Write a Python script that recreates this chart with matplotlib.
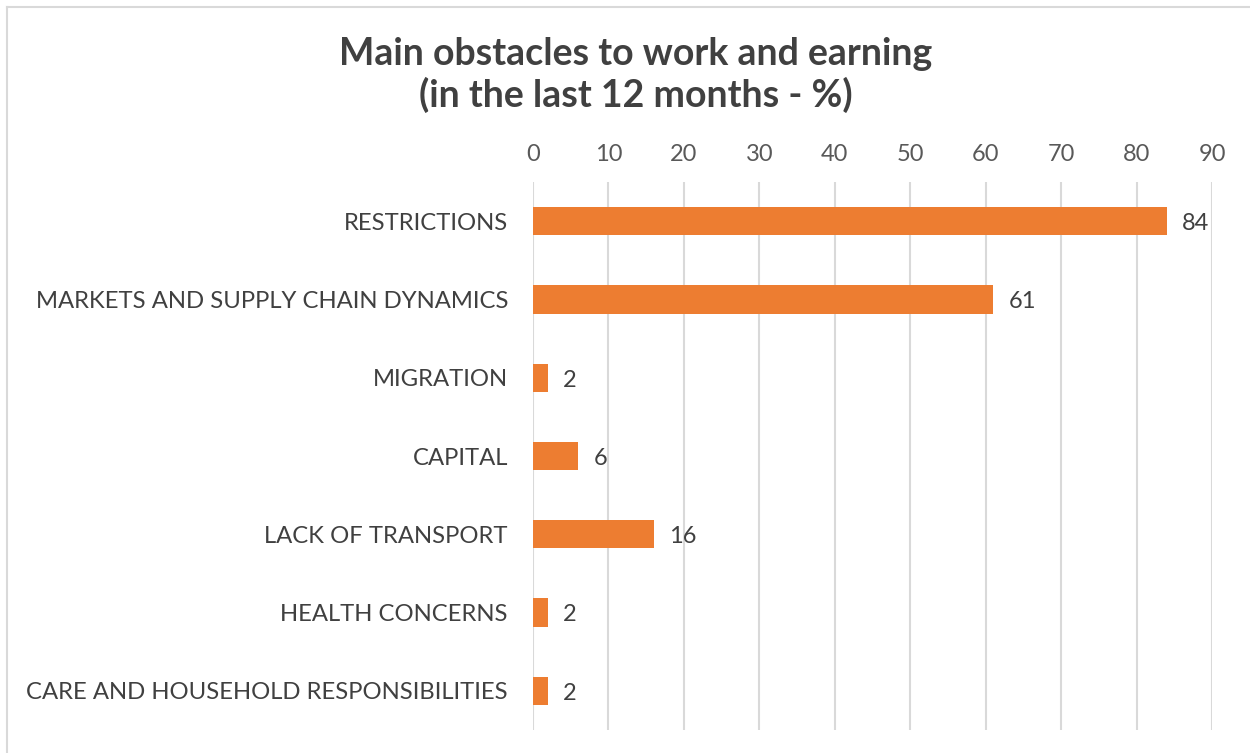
import matplotlib.pyplot as plt
from matplotlib.lines import Line2D

plt.rcParams['font.family'] = ['Lato', 'DejaVu Sans']

categories = ['RESTRICTIONS', 'MARKETS AND SUPPLY CHAIN DYNAMICS', 'MIGRATION',
              'CAPITAL', 'LACK OF TRANSPORT', 'HEALTH CONCERNS',
              'CARE AND HOUSEHOLD RESPONSIBILITIES']
values = [84, 61, 2, 6, 16, 2, 2]
xticks = [0, 10, 20, 30, 40, 50, 60, 70, 80, 90]

W, H = 1250, 753
fig = plt.figure(figsize=(W / 100, H / 100), dpi=100)
ax = fig.add_axes([533 / W, 1 - 730 / H, (1212 - 533) / W, (730 - 182) / H])

ypos = list(range(len(categories)))
ax.barh(ypos, values, height=0.36, color='#ED7D31', zorder=3)
for y, v in zip(ypos, values):
    ax.text(v + 2.0, y + 0.03, str(v), va='center', ha='left', fontsize=17, color='#404040')

ax.set_xlim(0, 90)
ax.set_ylim(len(categories) - 0.5, -0.5)
ax.set_xticks(xticks)
ax.set_yticks(ypos)
ax.set_yticklabels(categories)
ax.xaxis.tick_top()
ax.tick_params(axis='x', length=0, pad=12, labelsize=17, labelcolor='#595959')
ax.tick_params(axis='y', length=0, pad=18, labelsize=17.2, labelcolor='#404040')
ax.grid(axis='x', color='#d9d9d9', linewidth=1.5, zorder=0)
for s in ax.spines.values():
    s.set_visible(False)

fig.text(636 / W, 1 - 75 / H, 'Main obstacles to work and earning\n(in the last 12 months - %)',
         ha='center', va='center', fontsize=27, fontweight='bold', color='#404040',
         linespacing=1.2)

# outer chart border (only left and top are inside the picture)
fig.add_artist(Line2D([7 / W, 7 / W], [0, 1 - 7 / H], transform=fig.transFigure,
                      color='#d9d9d9', linewidth=1.5))
fig.add_artist(Line2D([7 / W, 1], [1 - 7 / H, 1 - 7 / H], transform=fig.transFigure,
                      color='#d9d9d9', linewidth=1.5))

fig.savefig('out.png', dpi=100)
